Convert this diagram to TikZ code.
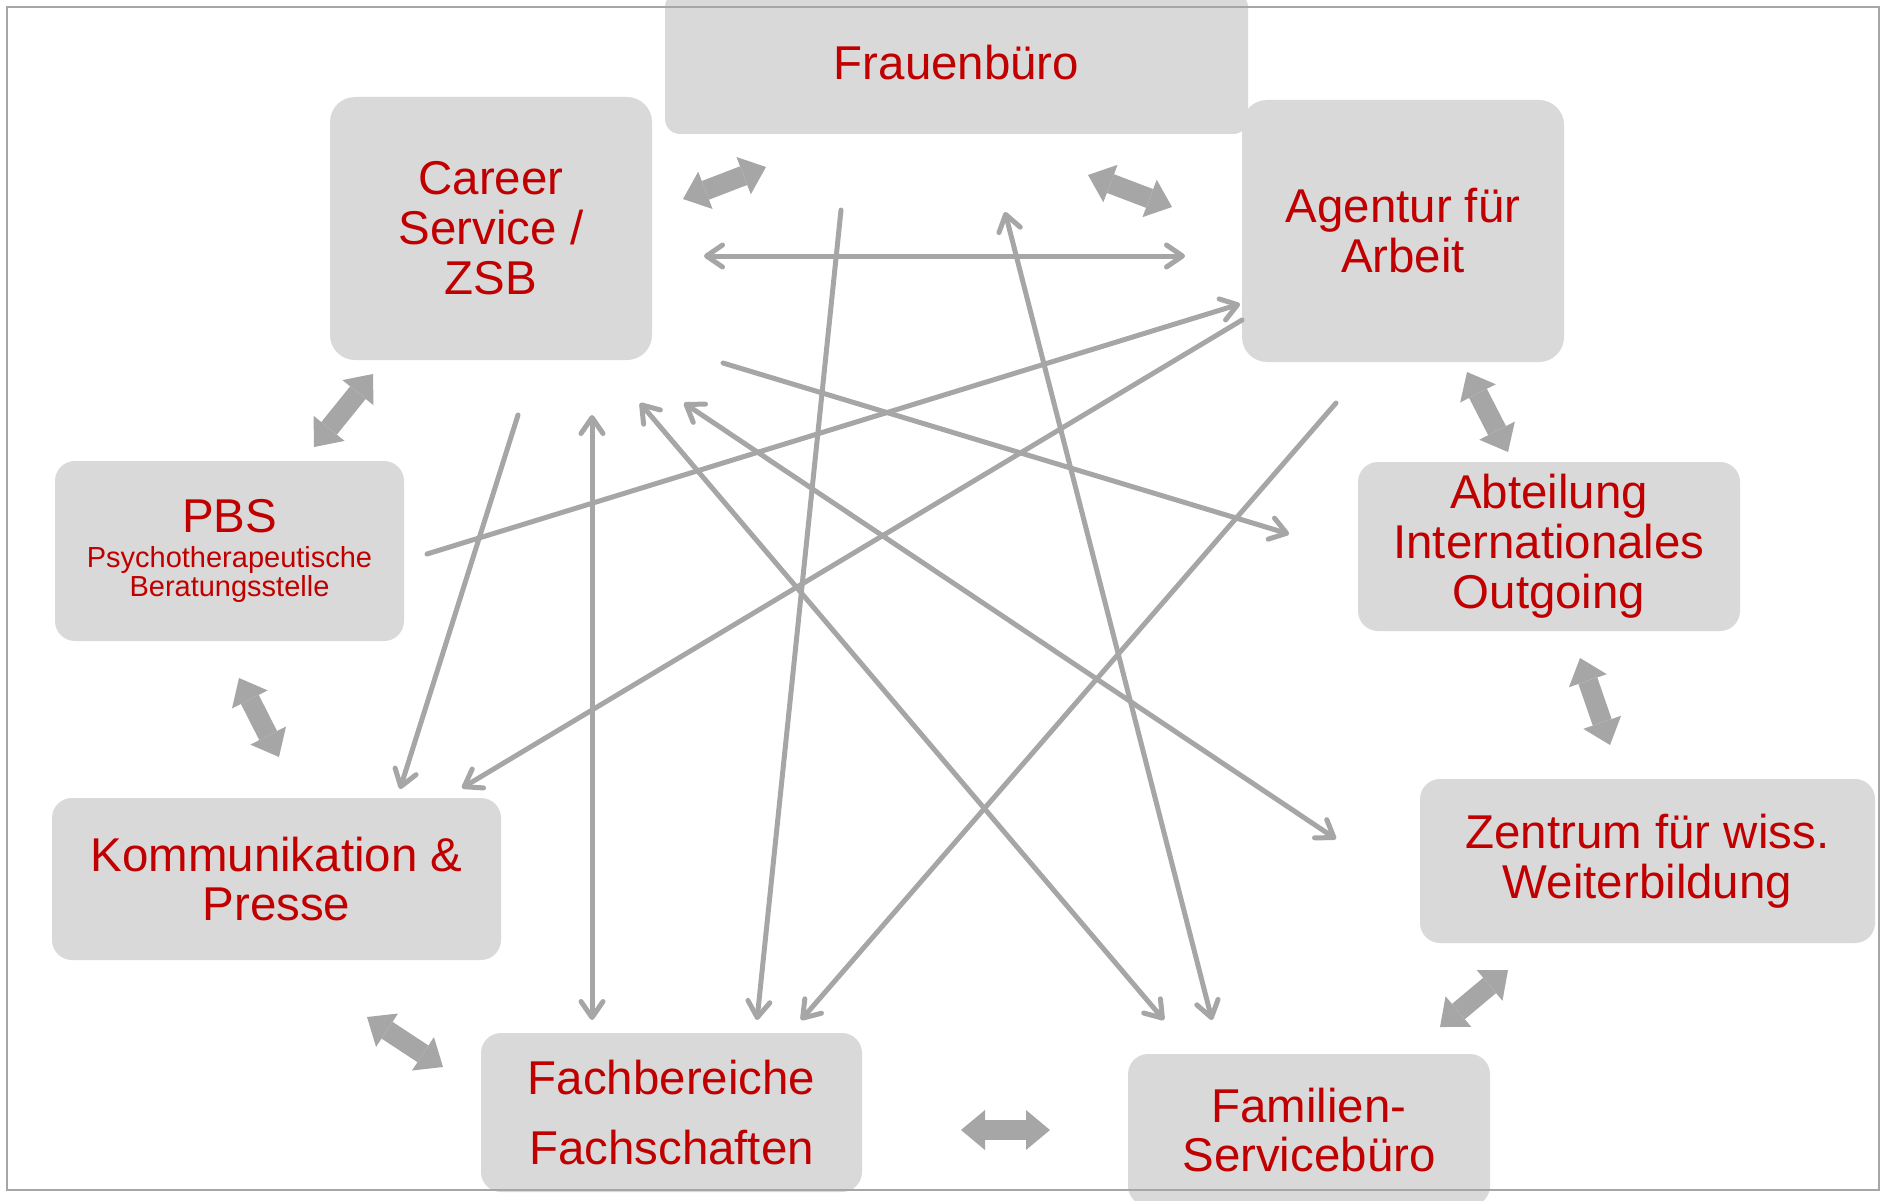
\documentclass[tikz,border=0pt]{standalone}
\usepackage{fontspec}
\setmainfont{Liberation Sans}
\usetikzlibrary{arrows.meta}
\definecolor{boxgray}{HTML}{D9D9D9}
\definecolor{labelred}{HTML}{C00000}
\definecolor{linkgray}{HTML}{A6A6A6}
\definecolor{framegray}{HTML}{A6A6A6}
\newcommand\unitfont{\fontsize{13.5}{14.2}\selectfont}
\newcommand\subfont{\fontsize{8.25}{7.97}\selectfont}

\begin{document}
\begin{tikzpicture}[x=0.1mm,y=-0.1mm,
  unit/.style={fill=boxgray, rounded corners=2mm, inner sep=0pt, align=center,
    text=labelred, font=\unitfont},
  link/.style={draw=linkgray, line width=0.5mm, line cap=round},
  barb/.tip={Straight Barb[length=1.6mm,width=2.2mm,round]},
  onehead/.style={link, -barb},
  twohead/.style={link, barb-barb},
  blk/.tip={Triangle[width=4mm,length=2.4mm,line width=0pt]},
  bond/.style={draw=linkgray, line width=2mm, blk-blk}
]
\useasboundingbox (0,0) rectangle (1887,1200);

% units
\node[unit, minimum width=58.3mm, minimum height=14.2mm, rounded corners=1.5mm] (frau) at (956.5,63) {Frauenbüro};
\node[unit, minimum width=32.2mm, minimum height=26.3mm, rounded corners=2.5mm] (career) at (491,228.5) {Career\\Service /\\ZSB};
\node[unit, minimum width=32.2mm, minimum height=26.2mm, rounded corners=2.5mm] (agentur) at (1403,231) {Agentur für\\Arbeit};
\node[unit, minimum width=34.9mm, minimum height=18mm] (pbs) at (229.5,551) {PBS\\[-1.5mm]\subfont Psychotherapeutische\\[-2.1mm]\subfont Beratungsstelle};
\node[unit, minimum width=38.2mm, minimum height=16.9mm] (abt) at (1549,546.5) {Abteilung\\Internationales\\Outgoing};
\node[unit, minimum width=44.9mm, minimum height=16.2mm] (komm) at (276.5,879) {Kommunikation \&\\Presse};
\node[unit, minimum width=45.5mm, minimum height=16.4mm] (zent) at (1647.5,861) {Zentrum für wiss.\\Weiterbildung};
\node[unit, minimum width=38.1mm, minimum height=15.9mm] (fach) at (671.5,1112.5) {Fachbereiche\\[2mm]Fachschaften};
\node[unit, minimum width=36.2mm, minimum height=15.2mm] (fam) at (1309,1130) {Familien-\\Servicebüro};

% frame
\draw[framegray, line width=0.2mm] (7,7) rectangle (1879,1190);

% ends of the block arrows between neighbouring units
\coordinate (cf1) at (683,199);   \coordinate (cf2) at (766,167);
\coordinate (fa1) at (1088,175);  \coordinate (fa2) at (1172,207);
\coordinate (cp1) at (373,374);   \coordinate (cp2) at (314,447);
\coordinate (pk1) at (239,678);   \coordinate (pk2) at (279,757);
\coordinate (kf1) at (367,1017);  \coordinate (kf2) at (443,1067);
\coordinate (ff1) at (961,1130);  \coordinate (ff2) at (1050,1130);
\coordinate (fz1) at (1440,1027); \coordinate (fz2) at (1508,970);
\coordinate (za1) at (1580,658);  \coordinate (za2) at (1610,745);
\coordinate (aa1) at (1467,372);  \coordinate (aa2) at (1508,452);

\draw[bond] (cf1) -- (cf2);
\draw[bond] (fa1) -- (fa2);
\draw[bond] (cp1) -- (cp2);
\draw[bond] (pk1) -- (pk2);
\draw[bond] (kf1) -- (kf2);
\draw[bond] (ff1) -- (ff2);
\draw[bond] (fz1) -- (fz2);
\draw[bond] (za1) -- (za2);
\draw[bond] (aa1) -- (aa2);

% ends of the thin links across the ring
\coordinate (ca-l) at (704,256);  \coordinate (ca-r) at (1185,256);
\coordinate (ff-t) at (841,210);  \coordinate (ff-b) at (757,1020);
\coordinate (fm-t) at (1005,212); \coordinate (fm-b) at (1212,1020);
\coordinate (cm-t) at (640,403);  \coordinate (cm-b) at (1164,1020);
\coordinate (cz-t) at (684,403);  \coordinate (cz-b) at (1336,839);
\coordinate (cb-t) at (592,415);  \coordinate (cb-b) at (592,1020);
\coordinate (ck-t) at (518,415);  \coordinate (ck-b) at (400,789);
\coordinate (ak-t) at (1242,320); \coordinate (ak-b) at (462,788);
\coordinate (pa-l) at (427,554);  \coordinate (pa-r) at (1240,304);
\coordinate (co-l) at (723,363);  \coordinate (co-r) at (1289,534);
\coordinate (af-t) at (1336,403); \coordinate (af-b) at (801,1020);

\draw[twohead] (ca-l) -- (ca-r);
\draw[onehead] (ff-t) -- (ff-b);
\draw[twohead] (fm-t) -- (fm-b);
\draw[twohead] (cm-t) -- (cm-b);
\draw[twohead] (cz-t) -- (cz-b);
\draw[twohead] (cb-t) -- (cb-b);
\draw[onehead] (ck-t) -- (ck-b);
\draw[onehead] (ak-t) -- (ak-b);
\draw[onehead] (pa-l) -- (pa-r);
\draw[onehead] (co-l) -- (co-r);
\draw[onehead] (af-t) -- (af-b);
\end{tikzpicture}
\end{document}
